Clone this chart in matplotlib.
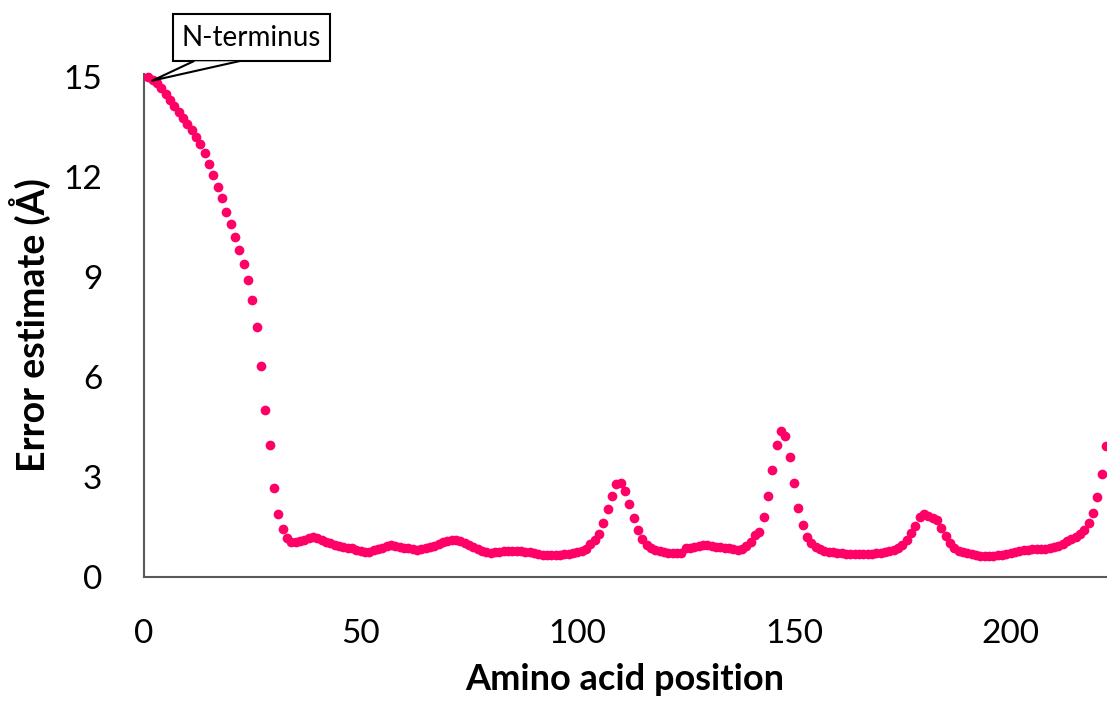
import matplotlib
matplotlib.use("Agg")
import matplotlib.pyplot as plt
from matplotlib.patches import Rectangle, Polygon
import numpy as np

plt.rcParams['font.family'] = ['Lato', 'DejaVu Sans']

# Error estimate per residue
error_head = [15.0, 14.92, 14.83, 14.69, 14.51, 14.31, 14.13, 13.96, 13.79, 13.61,
              13.41, 13.21, 12.99, 12.73, 12.39, 12.06, 11.71, 11.39, 10.96, 10.59,
              10.21, 9.81, 9.39, 8.93, 8.33, 7.51, 6.33, 5.00, 3.96, 2.66,
              1.89, 1.44, 1.18]
error_mid1 = [1.05, 1.04, 1.08, 1.12, 1.16, 1.20, 1.17, 1.12, 1.06, 1.01,
              0.97, 0.93, 0.91, 0.88, 0.86, 0.82, 0.78, 0.75, 0.76, 0.80,
              0.84, 0.88, 0.92, 0.95, 0.94, 0.91, 0.88, 0.86, 0.84, 0.82,
              0.84, 0.86, 0.90, 0.94, 0.99, 1.04, 1.08, 1.10, 1.10, 1.08,
              1.03, 0.96, 0.89, 0.83, 0.78, 0.74, 0.73, 0.74, 0.76, 0.77,
              0.78, 0.78, 0.78, 0.77, 0.76, 0.74, 0.71, 0.69, 0.67, 0.66,
              0.65, 0.65, 0.66, 0.68, 0.70, 0.72, 0.74]
error_mid2 = [0.78, 0.85, 0.98, 1.10, 1.29, 1.63, 2.03, 2.43, 2.78, 2.83,
              2.59, 2.18, 1.78, 1.41, 1.13, 0.96, 0.88, 0.82, 0.78, 0.75,
              0.73, 0.72, 0.72, 0.72, 0.88, 0.88, 0.91, 0.94, 0.96, 0.96,
              0.94, 0.91, 0.89, 0.87, 0.86, 0.84, 0.82, 0.83, 0.92, 1.05,
              1.25, 1.36, 1.81, 2.43, 3.21, 3.96, 4.38, 4.23, 3.61, 2.81,
              2.08, 1.56, 1.19, 1.01, 0.90, 0.83, 0.79, 0.76, 0.74, 0.72]
error_tail = [0.71, 0.70, 0.70, 0.70, 0.70, 0.70, 0.70, 0.70, 0.71, 0.73,
              0.75, 0.78, 0.82, 0.88, 0.96, 1.10, 1.31, 1.53, 1.79, 1.88,
              1.84, 1.78, 1.71, 1.46, 1.23, 1.01, 0.87, 0.78, 0.74, 0.71,
              0.68, 0.66, 0.64, 0.63, 0.62, 0.63, 0.65, 0.67, 0.70, 0.72,
              0.74, 0.77, 0.80, 0.82, 0.83, 0.84, 0.84, 0.85, 0.87, 0.90,
              0.94, 1.00, 1.07, 1.14, 1.21, 1.30, 1.41, 1.63, 1.91, 2.41,
              3.08, 3.93]
error = error_head + error_mid1 + error_mid2 + error_tail
position = np.arange(1, len(error) + 1)

xticks = [0, 50, 100, 150, 200]
yticks = [0, 3, 6, 9, 12, 15]

fig = plt.figure(figsize=(11.07, 7.08), dpi=100)
ax = fig.add_axes([144 / 1107, 131 / 708, 962 / 1107, 503 / 708])

ax.plot(position, error, 'o', color='#FF0066', markersize=7,
        markeredgewidth=0, clip_on=False, zorder=3)

ax.set_xlim(0, 222)
ax.set_ylim(0, 15.1)
ax.set_xticks(xticks)
ax.set_yticks(yticks)
ax.tick_params(length=0, labelsize=24, pad=30)

for side in ['top', 'right']:
    ax.spines[side].set_visible(False)
for side in ['left', 'bottom']:
    ax.spines[side].set_color('#595959')
    ax.spines[side].set_linewidth(1.5)

ax.set_xlabel('Amino acid position', fontsize=26, fontweight='bold', labelpad=10)
ax.set_ylabel('Error estimate (Å)', fontsize=27, fontweight='bold', labelpad=9)

# N-terminus callout box
bx0, bx1, by0, by1 = 6.6, 43.0, 15.48, 16.89
box = Rectangle((bx0, by0), bx1 - bx0, by1 - by0, transform=ax.transData,
                facecolor='white', edgecolor='black', linewidth=1.5,
                clip_on=False, zorder=5)
ax.add_patch(box)
ax.text((bx0 + bx1) / 2, (by0 + by1) / 2, 'N-terminus', fontsize=20,
        ha='center', va='center', zorder=7, clip_on=False)
tip = (1.9, 14.9)
base_l, base_r = (11.4, by0), (21.8, by0)
wedge = Polygon([base_l, tip, base_r], closed=True, facecolor='white',
                edgecolor='none', clip_on=False, zorder=6)
ax.add_patch(wedge)
ax.plot([base_l[0], tip[0], base_r[0]], [base_l[1], tip[1], base_r[1]],
        color='black', linewidth=1.5, clip_on=False, zorder=6)

fig.savefig('out.png', dpi=100, facecolor='white')
